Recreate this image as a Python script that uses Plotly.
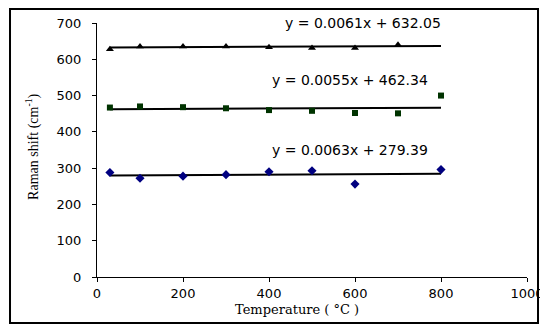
import plotly.graph_objects as go

# Data
temp_tri = [30, 100, 200, 300, 400, 500, 600, 700]
shift_tri = [628, 635, 635, 635, 633, 631, 631, 640]

temp_sq = [30, 100, 200, 300, 400, 500, 600, 700, 800]
shift_sq = [467, 470, 468, 465, 460, 458, 452, 451, 500]

temp_dia = [30, 100, 200, 300, 400, 500, 600, 800]
shift_dia = [288, 272, 278, 282, 290, 293, 256, 296]

fit_slopes = [0.0061, 0.0055, 0.0063]
fit_intercepts = [632.05, 462.34, 279.39]
fit_labels = ["y = 0.0061x + 632.05", "y = 0.0055x + 462.34", "y = 0.0063x + 279.39"]
fit_xrange = [30, 800]

x_ticks = [0, 200, 400, 600, 800, 1000]
y_ticks = [0, 100, 200, 300, 400, 500, 600, 700]

x_title = "Temperature ( °C )"
y_title = "Raman shift (cm<sup>-1</sup>)"

fig = go.Figure()

# trend lines
for m, b in zip(fit_slopes, fit_intercepts):
    fig.add_trace(go.Scatter(
        x=fit_xrange, y=[m * x + b for x in fit_xrange],
        mode="lines", line=dict(color="black", width=2),
        hoverinfo="skip", showlegend=False))

fig.add_trace(go.Scatter(x=temp_tri, y=shift_tri, mode="markers",
                         marker=dict(symbol="triangle-up", size=7, color="black"),
                         showlegend=False))
fig.add_trace(go.Scatter(x=temp_sq, y=shift_sq, mode="markers",
                         marker=dict(symbol="square", size=6, color="#003300"),
                         showlegend=False))
fig.add_trace(go.Scatter(x=temp_dia, y=shift_dia, mode="markers",
                         marker=dict(symbol="diamond", size=7, color="#000080"),
                         showlegend=False))

# equation labels
label_pos = [(619, 700), (588, 543), (588, 350)]
for (lx, ly), txt in zip(label_pos, fit_labels):
    fig.add_annotation(x=lx, y=ly, text=txt, showarrow=False,
                       xanchor="center", yanchor="middle",
                       font=dict(family="DejaVu Sans", size=14, color="black"))

# axis titles
fig.add_annotation(xref="paper", yref="paper", x=0.464, y=-0.126, text=x_title,
                   showarrow=False, xanchor="center", yanchor="middle",
                   font=dict(family="DejaVu Serif", size=13, color="black"))
fig.add_annotation(xref="paper", yref="paper", x=-0.149, y=0.512, text=y_title,
                   showarrow=False, xanchor="center", yanchor="middle", textangle=-90,
                   font=dict(family="Liberation Serif", size=14, color="black"))

# outer border
fig.add_shape(type="rect", xref="paper", yref="paper",
              x0=-0.2023, x1=1.0256, y0=-0.181, y1=1.0551,
              line=dict(color="black", width=2))

fig.update_layout(
    width=540, height=327,
    margin=dict(l=97, r=13, t=23, b=50, autoexpand=False),
    paper_bgcolor="white", plot_bgcolor="white",
    xaxis=dict(range=[0, 1000], tickvals=x_ticks, showgrid=False, zeroline=False,
               showline=True, linecolor="black", linewidth=1,
               ticks="outside", ticklen=4, tickcolor="black",
               ticklabeloverflow="allow", automargin=False,
               tickfont=dict(family="DejaVu Sans", size=13, color="black")),
    yaxis=dict(range=[0, 700], tickvals=y_ticks, showgrid=False, zeroline=False,
               showline=True, linecolor="black", linewidth=1,
               ticks="outside", ticklen=4, tickcolor="black",
               ticklabeloverflow="allow", automargin=False,
               tickfont=dict(family="DejaVu Sans", size=13, color="black"),
               ticklabelstandoff=8),
)

# remove the default page margin so the 540x327 figure fills the window exactly
fig.write_html("out.html",
               config={"displayModeBar": False},
               post_script="document.body.style.margin='0';document.body.style.overflow='hidden';")
